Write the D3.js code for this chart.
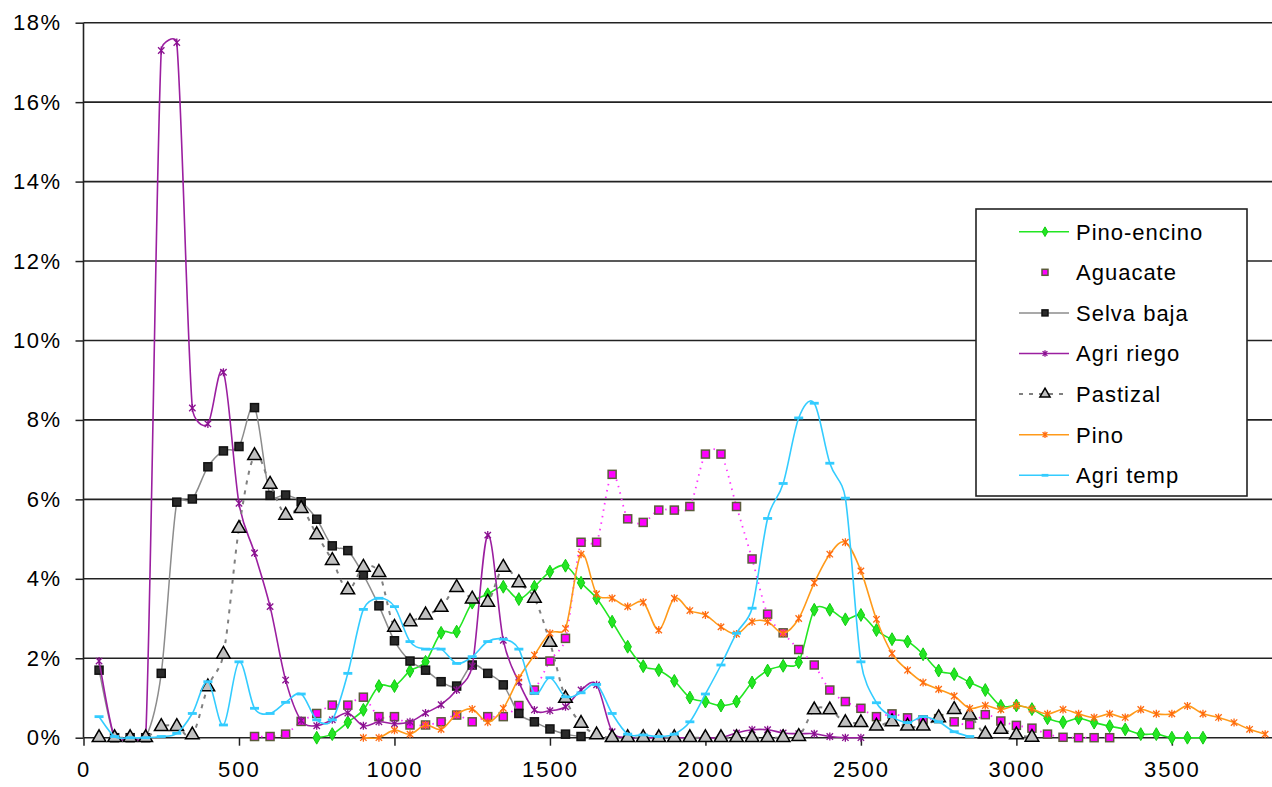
<!DOCTYPE html>
<html>
<head>
<meta charset="utf-8">
<script src="https://cdn.jsdelivr.net/npm/d3@7"></script>
<style>
  body { margin: 0; background: #fff; }
  text { font-family: "Liberation Sans", Arial, sans-serif; font-size: 22px; fill: #000; letter-spacing: 1px; }
</style>
</head>
<body>
<svg id="chart"></svg>
<script>
// altitud (m), paso de 50
const elevations = [50,100,150,200,250,300,350,400,450,500,550,600,650,700,750,800,850,900,950,1000,
  1050,1100,1150,1200,1250,1300,1350,1400,1450,1500,1550,1600,1650,1700,1750,1800,1850,1900,1950,2000,
  2050,2100,2150,2200,2250,2300,2350,2400,2450,2500,2550,2600,2650,2700,2750,2800,2850,2900,2950,3000,
  3050,3100,3150,3200,3250,3300,3350,3400,3450,3500,3550,3600,3650,3700,3750,3800];

const xTicks = [0, 500, 1000, 1500, 2000, 2500, 3000, 3500];
const yTicks = [0, 2, 4, 6, 8, 10, 12, 14, 16, 18];

// valores en %, cada serie empieza en su altitud inicial
const pinoEncinoStart = 750;
const pinoEncino = [0,0.09,0.39,0.7,1.3,1.3,1.68,1.91,2.64,2.67,
  3.4,3.61,3.8,3.49,3.8,4.18,4.33,3.9,3.51,2.92,
  2.29,1.8,1.7,1.43,1.01,0.91,0.81,0.91,1.39,1.69,
  1.81,1.9,3.22,3.22,2.98,3.09,2.71,2.48,2.42,2.1,
  1.69,1.6,1.39,1.2,0.8,0.81,0.72,0.49,0.39,0.49,
  0.38,0.29,0.21,0.09,0.09,0,0,0];

const aguacateStart = 550;
const aguacate = [0.03,0.03,0.09,0.41,0.61,0.82,0.82,1.02,0.53,0.53,
  0.32,0.32,0.4,0.57,0.4,0.53,0.53,0.81,1.2,1.93,
  2.5,4.92,4.92,6.63,5.51,5.42,5.73,5.73,5.82,7.14,
  7.14,5.82,4.5,3.11,2.64,2.22,1.83,1.2,0.91,0.74,
  0.53,0.6,0.5,0.45,0.48,0.4,0.33,0.58,0.42,0.31,
  0.24,0.09,0.01,0,0,0];

const selvaBajaStart = 50;
const selvaBaja = [1.7,0,0,0,1.62,5.93,6.01,6.82,7.22,7.33,
  8.31,6.1,6.11,5.94,5.5,4.83,4.71,4.1,3.32,2.44,
  1.93,1.7,1.41,1.3,1.83,1.62,1.33,0.61,0.4,0.22,
  0.09,0.03];

const agriRiegoStart = 50;
const agriRiego = [1.93,0,0,0,17.3,17.5,8.3,7.9,9.2,5.9,
  4.65,3.3,1.45,0.43,0.3,0.45,0.62,0.3,0.4,0.35,
  0.4,0.62,0.83,1.2,1.8,5.1,2.45,1.4,0.7,0.68,
  0.78,1.2,1.33,0.15,0,0,0,0,0,0,
  0,0.12,0.2,0.2,0.12,0.1,0.1,0.03,0,0];

const pastizalStart = 50;
const pastizal = [0,0,0,0,0.28,0.28,0.07,1.28,2.1,5.27,
  7.1,6.38,5.6,5.77,5.11,4.46,3.72,4.29,4.16,2.78,
  2.92,3.09,3.28,3.78,3.49,3.41,4.29,3.9,3.51,2.4,
  0.99,0.36,0.07,0,0,0,0,0,0,0,
  0,0,0,0,0,0.03,0.7,0.7,0.38,0.38,
  0.29,0.4,0.29,0.29,0.5,0.71,0.57,0.09,0.21,0.07,
  0.01];

const pinoStart = 900;
const pino = [0,0,0.19,0.09,0.32,0.21,0.59,0.72,0.39,0.74,
  1.5,2.08,2.63,2.75,4.62,3.62,3.51,3.3,3.41,2.71,
  3.51,3.2,3.09,2.79,2.61,2.92,2.92,2.63,3.0,3.9,
  4.62,4.92,4.2,2.98,2.12,1.7,1.39,1.22,1.05,0.74,
  0.81,0.71,0.81,0.72,0.6,0.71,0.6,0.51,0.6,0.51,
  0.71,0.6,0.6,0.8,0.6,0.51,0.38,0.21,0.09];

const agriTempStart = 50;
const agriTemp = [0.53,0.03,0,0,0.03,0.11,0.61,1.41,0.32,1.91,
  0.74,0.61,0.89,1.1,0.45,0.45,1.62,3.23,3.51,3.3,
  2.42,2.23,2.23,1.87,2.04,2.42,2.48,2.23,1.12,1.51,
  1.03,1.13,1.34,0.61,0.09,0.07,0.03,0.09,0.4,1.1,
  1.83,2.63,3.26,5.52,6.4,8.05,8.42,6.91,6.03,1.91,
  0.88,0.53,0.38,0.53,0.4,0.15,0.03];

function toPoints(start, values) {
  const i0 = elevations.indexOf(start);
  return values.map((v, i) => ({ x: elevations[i0 + i], y: v }));
}

const series = [
  { name: "Pino-encino", data: toPoints(pinoEncinoStart, pinoEncino), line: "#22e622", width: 1.6, dash: null, marker: "diamond", mFill: "#22e622", mStroke: "#11cc11" },
  { name: "Aguacate", data: toPoints(aguacateStart, aguacate), line: "#ff33ff", width: 1.8, dash: "1.5,5", marker: "square", mFill: "#ff00ff", mStroke: "#5b5b3b" },
  { name: "Selva baja", data: toPoints(selvaBajaStart, selvaBaja), line: "#8c8c8c", width: 1.5, dash: null, marker: "square", mFill: "#2a2a2a", mStroke: "#111" },
  { name: "Agri riego", data: toPoints(agriRiegoStart, agriRiego), line: "#9b1fa0", width: 1.6, dash: null, marker: "star", mFill: "none", mStroke: "#8a1090" },
  { name: "Pastizal", data: toPoints(pastizalStart, pastizal), line: "#808080", width: 2, dash: "4,6", marker: "triangle", mFill: "#c0c0c0", mStroke: "#000" },
  { name: "Pino", data: toPoints(pinoStart, pino), line: "#ff9a1a", width: 1.6, dash: null, marker: "star", mFill: "none", mStroke: "#ff6a10" },
  { name: "Agri temp", data: toPoints(agriTempStart, agriTemp), line: "#33ccff", width: 1.6, dash: null, marker: "dash", mFill: "#33ccff", mStroke: "#33ccff" }
];

const width = 1272, height = 787;
const x = d3.scaleLinear().domain([0, 3822]).range([83.5, 1272]);
const y = d3.scaleLinear().domain([0, 18]).range([737.7, 22.7]);

const svg = d3.select("#chart").attr("width", width).attr("height", height);

// lineas de la cuadricula
svg.append("g")
  .selectAll("line")
  .data(yTicks.filter(d => d > 0))
  .join("line")
    .attr("x1", x(0)).attr("x2", width)
    .attr("y1", d => y(d)).attr("y2", d => y(d))
    .attr("stroke", "#222").attr("stroke-width", 1.6);

// ejes
const yAxis = svg.append("g")
  .attr("transform", `translate(${x(0)},0)`)
  .call(d3.axisLeft(y).tickValues(yTicks).tickSize(8).tickPadding(14).tickFormat(d => d + "%"));
const xAxis = svg.append("g")
  .attr("transform", `translate(0,${y(0)})`)
  .call(d3.axisBottom(x).tickValues(xTicks).tickSize(8).tickPadding(16).tickFormat(d3.format("d")));

[yAxis, xAxis].forEach(a => {
  a.select(".domain").attr("stroke", "#222").attr("stroke-width", 1.6);
  a.selectAll(".tick line").attr("stroke", "#222").attr("stroke-width", 1.5);
  a.selectAll("text").attr("font-size", 22).attr("font-family", "Liberation Sans, Arial, sans-serif").attr("fill", "#000");
});
yAxis.select(".domain").attr("d", `M0,${y(18)}V${y(0)}`);
xAxis.select(".domain").attr("d", `M${x(0)},0H${width}`);
xAxis.selectAll("text").attr("dy", "0.71em").style("letter-spacing", "2px");
yAxis.selectAll("text").style("letter-spacing", "1.5px");

function drawMarker(g, s, cx, cy, k) {
  if (s.marker === "diamond") {
    g.append("path").attr("d", d3.symbol(d3.symbolDiamond, 48 * k * k)())
      .attr("transform", `translate(${cx},${cy})`)
      .attr("fill", s.mFill).attr("stroke", s.mStroke).attr("stroke-width", 1);
  } else if (s.marker === "square") {
    const h = 4 * k;
    g.append("rect").attr("x", cx - h).attr("y", cy - h).attr("width", 2 * h).attr("height", 2 * h)
      .attr("fill", s.mFill).attr("stroke", s.mStroke).attr("stroke-width", 1.5);
  } else if (s.marker === "triangle") {
    g.append("path").attr("d", d3.symbol(d3.symbolTriangle, 80 * k * k)())
      .attr("transform", `translate(${cx},${cy})`)
      .attr("fill", s.mFill).attr("stroke", s.mStroke).attr("stroke-width", 1.5);
  } else if (s.marker === "star") {
    const r = 3.2 * k;
    g.append("path")
      .attr("d", `M${cx - r},${cy - r}L${cx + r},${cy + r}M${cx - r},${cy + r}L${cx + r},${cy - r}M${cx},${cy - r - 0.8}V${cy + r + 0.8}`)
      .attr("fill", "none").attr("stroke", s.mStroke).attr("stroke-width", 1.3);
  } else if (s.marker === "dash") {
    g.append("rect").attr("x", cx - 4.5 * k).attr("y", cy - 1.4).attr("width", 9 * k).attr("height", 2.8)
      .attr("fill", s.mFill);
  }
}

// suavizado tipo Excel: Catmull-Rom uniforme, asa limitada a la mitad del tramo
function smoothPath(data) {
  const p = data.map(d => [x(d.x), y(d.y)]);
  const path = d3.path();
  path.moveTo(p[0][0], p[0][1]);
  const tan = p.map((q, i) => {
    const a = p[Math.max(0, i - 1)], b = p[Math.min(p.length - 1, i + 1)];
    const dx = b[0] - a[0], dy = b[1] - a[1];
    const l = Math.hypot(dx, dy) || 1;
    return { ux: dx / l, uy: dy / l, len: l / 6 };
  });
  for (let i = 0; i < p.length - 1; i++) {
    const a = p[i], b = p[i + 1];
    const d = Math.hypot(b[0] - a[0], b[1] - a[1]);
    const h1 = Math.min(tan[i].len, d * 0.5);
    const h2 = Math.min(tan[i + 1].len, d * 0.5);
    path.bezierCurveTo(a[0] + tan[i].ux * h1, a[1] + tan[i].uy * h1,
                       b[0] - tan[i + 1].ux * h2, b[1] - tan[i + 1].uy * h2,
                       b[0], b[1]);
  }
  return path.toString();
}

series.forEach(s => {
  const g = svg.append("g");
  g.append("path")
    .attr("d", smoothPath(s.data))
    .attr("fill", "none")
    .attr("stroke", s.line)
    .attr("stroke-width", s.width)
    .attr("stroke-dasharray", s.dash);
  s.data.forEach(d => drawMarker(g, s, x(d.x), y(d.y), 1));
});

// leyenda
const legend = svg.append("g");
legend.append("rect")
  .attr("x", 976).attr("y", 209).attr("width", 271).attr("height", 287)
  .attr("fill", "#fff").attr("stroke", "#222").attr("stroke-width", 1.6);
series.forEach((s, i) => {
  const ly = 231.7 + i * 40.6;
  const g = legend.append("g");
  if (s.name !== "Aguacate") {
    g.append("line").attr("x1", 1019).attr("x2", 1069).attr("y1", ly).attr("y2", ly)
      .attr("stroke", s.line).attr("stroke-width", s.width).attr("stroke-dasharray", s.dash);
  }
  drawMarker(g, s, 1045, ly, 0.75);
  g.append("text").attr("x", 1076).attr("y", ly).attr("dy", "0.36em").text(s.name);
});
</script>
</body>
</html>
